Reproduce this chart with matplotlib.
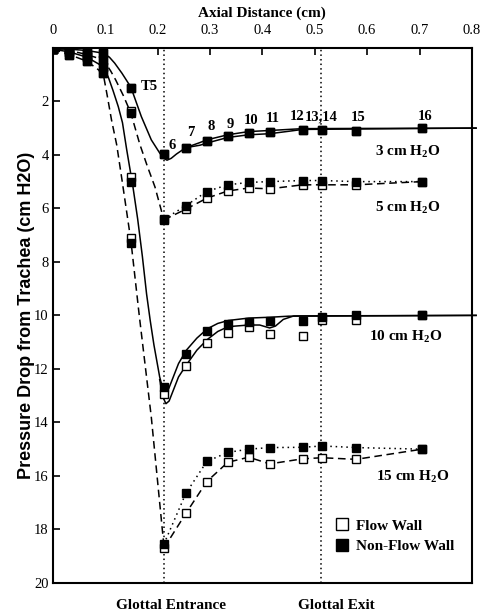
import matplotlib
matplotlib.use("Agg")
import matplotlib.pyplot as plt
from matplotlib.lines import Line2D

plt.rcParams['font.family'] = ['Liberation Serif', 'DejaVu Serif']
plt.rcParams['mathtext.fontset'] = 'custom'
plt.rcParams['mathtext.rm'] = 'Liberation Serif'
plt.rcParams['mathtext.bf'] = 'Liberation Serif:bold'

# measurement stations (cm along the axis)
x_pos = [0.0, 0.031, 0.065, 0.096, 0.149, 0.212, 0.254, 0.294, 0.334, 0.374, 0.414, 0.477, 0.514, 0.579, 0.705]
station_labels = ['T5', '6', '7', '8', '9', '10', '11', '12', '13,14', '15', '16']

# pressure drop, non-flow wall (filled) and flow wall (open)
p3_nonflow = [0.05, 0.05, 0.1, 0.2, 1.5, 3.97, 3.75, 3.48, 3.29, 3.19, 3.15, 3.07, 3.07, 3.1, 3.0]
p3_flow = [0.05, 0.05, 0.1, 0.2, 1.5, 3.97, 3.75, 3.48, 3.29, 3.19, 3.15, 3.07, 3.07, 3.1, 3.0]
p5_nonflow = [0.05, 0.1, 0.25, 0.45, 2.44, 6.41, 5.9, 5.37, 5.12, 5.03, 5.0, 4.96, 4.96, 5.0, 5.0]
p5_flow = [0.05, 0.1, 0.25, 0.45, 2.38, 6.43, 6.03, 5.62, 5.35, 5.24, 5.27, 5.12, 5.12, 5.12, 5.0]
p10_nonflow = [0.05, 0.15, 0.35, 0.7, 5.0, 12.66, 11.44, 10.6, 10.32, 10.24, 10.2, 10.2, 10.05, 10.0, 10.0]
p10_flow = [0.05, 0.15, 0.35, 0.7, 4.82, 12.95, 11.89, 11.03, 10.65, 10.43, 10.7, 10.77, 10.17, 10.17, 10.0]
p15_nonflow = [0.05, 0.25, 0.5, 0.95, 7.3, 18.55, 16.65, 15.46, 15.12, 15.0, 14.94, 14.93, 14.88, 14.94, 15.0]
p15_flow = [0.05, 0.25, 0.5, 0.95, 7.1, 18.7, 17.4, 16.21, 15.49, 15.3, 15.55, 15.36, 15.32, 15.38, 15.0]

# solid model curves, 3 cm H2O
c3_up_x = [0.0, 0.031, 0.065, 0.096, 0.108, 0.118, 0.132, 0.149, 0.169, 0.188, 0.204, 0.212, 0.218, 0.226,
           0.236, 0.254, 0.281, 0.294, 0.334, 0.374, 0.414, 0.45, 0.477, 0.808]
c3_up_y = [0.05, 0.05, 0.1, 0.2, 0.35, 0.57, 0.95, 1.47, 2.57, 3.44, 3.93, 4.13, 4.2, 4.13,
           3.97, 3.73, 3.54, 3.44, 3.25, 3.13, 3.09, 3.05, 3.02, 3.0]
c3_lo_x = [0.254, 0.281, 0.294, 0.334, 0.374, 0.414, 0.45, 0.477, 0.808]
c3_lo_y = [3.73, 3.64, 3.56, 3.35, 3.25, 3.21, 3.12, 3.05, 3.0]

# solid model curves, 10 cm H2O
c10_up_x = [0.0, 0.031, 0.065, 0.096, 0.106, 0.115, 0.125, 0.133, 0.141, 0.153, 0.162, 0.171, 0.179, 0.186,
            0.193, 0.204, 0.210, 0.215, 0.221, 0.230, 0.240, 0.255, 0.275, 0.295, 0.315, 0.335, 0.374,
            0.414, 0.45, 0.808]
c10_up_y = [0.05, 0.15, 0.35, 0.7, 1.1, 1.6, 2.2, 2.8, 3.8, 5.2, 6.4, 7.8, 9.2, 10.2,
            11.1, 12.3, 12.75, 12.9, 12.75, 12.3, 11.8, 11.3, 10.85, 10.5, 10.3, 10.19, 10.1,
            10.07, 10.03, 10.0]
c10_lo_x = [0.204, 0.210, 0.216, 0.222, 0.230, 0.240, 0.255, 0.275, 0.295, 0.315, 0.335, 0.374, 0.395,
            0.414, 0.425, 0.44, 0.46, 0.808]
c10_lo_y = [12.4, 13.05, 13.3, 13.2, 12.8, 12.3, 11.85, 11.3, 10.9, 10.6, 10.42, 10.36, 10.36,
            10.47, 10.4, 10.15, 10.02, 10.0]

# dashed entry curves up to the glottal entrance
c5_in_x = [0.0, 0.031, 0.065, 0.096, 0.11, 0.12, 0.135, 0.149, 0.166, 0.18, 0.195, 0.212]
c5_in_y = [0.05, 0.1, 0.25, 0.45, 0.85, 1.2, 1.8, 2.44, 3.6, 4.4, 5.2, 6.43]
c15_in_x = [0.0, 0.031, 0.065, 0.096, 0.104, 0.112, 0.122, 0.132, 0.149, 0.165, 0.188, 0.212]
c15_in_y = [0.05, 0.25, 0.5, 0.95, 1.8, 2.69, 3.63, 4.93, 7.2, 10.0, 13.8, 18.6]

glottal_entrance = 0.212
glottal_exit = 0.512

xticks = [0, 0.1, 0.2, 0.3, 0.4, 0.5, 0.6, 0.7, 0.8]
xtick_labels = ['0', '0.1', '0.2', '0.3', '0.4', '0.5', '0.6', '0.7', '0.8']
yticks = [2, 4, 6, 8, 10, 12, 14, 16, 18, 20]

# label spots for station numbers (above the 3 cm curve)
num_x = [0.184, 0.2285, 0.2635, 0.3017, 0.338, 0.379, 0.419, 0.466, 0.513, 0.582, 0.710]
num_y = [1.45, 3.66, 3.18, 2.94, 2.88, 2.72, 2.65, 2.57, 2.57, 2.61, 2.57]

fig = plt.figure(figsize=(4.89, 6.13), dpi=100)
ax = fig.add_axes([0.108, 0.049, 0.857, 0.873])

lw = 1.1
dash = (0, (5, 3))
dot = (0, (1, 2.5))

ax.axvline(glottal_entrance, color='black', lw=1.1, linestyle=(0, (1, 2)))
ax.axvline(glottal_exit, color='black', lw=1.1, linestyle=(0, (1, 2)))

ax.plot(c3_up_x, c3_up_y, color='black', lw=lw, clip_on=False)
ax.plot(c3_lo_x, c3_lo_y, color='black', lw=lw, clip_on=False)
ax.plot(c10_up_x, c10_up_y, color='black', lw=lw, clip_on=False)
ax.plot(c10_lo_x, c10_lo_y, color='black', lw=lw, clip_on=False)

ax.plot(c5_in_x, c5_in_y, color='black', lw=lw, linestyle=dash)
ax.plot(c15_in_x, c15_in_y, color='black', lw=lw, linestyle=dash)
ax.plot(x_pos[5:], p5_flow[5:], color='black', lw=lw, linestyle=dash)
ax.plot(x_pos[5:], p15_flow[5:], color='black', lw=lw, linestyle=dash)
ax.plot(x_pos[5:], p5_nonflow[5:], color='black', lw=lw, linestyle=dot)
ax.plot(x_pos[5:], p15_nonflow[5:], color='black', lw=lw, linestyle=dot)

for p in [p3_flow, p5_flow, p10_flow, p15_flow]:
    ax.plot(x_pos, p, linestyle='none', marker='s', ms=5.5, mfc='white', mec='black', mew=1.0, zorder=4)
for p in [p3_nonflow, p5_nonflow, p10_nonflow, p15_nonflow]:
    ax.plot(x_pos, p, linestyle='none', marker='s', ms=6, mfc='black', mec='black', zorder=5)

for lab, tx, ty in zip(station_labels, num_x, num_y):
    ax.text(tx, ty, lab, ha='center', va='center', fontsize=10.5, fontweight='bold')

ax.text(0.678, 3.88, r'3 cm H$_\mathbf{2}$O', ha='center', va='center', fontsize=11, fontweight='bold')
ax.text(0.678, 5.96, r'5 cm H$_\mathbf{2}$O', ha='center', va='center', fontsize=11, fontweight='bold')
ax.text(0.674, 10.79, r'10 cm H$_\mathbf{2}$O', ha='center', va='center', fontsize=11, fontweight='bold')
ax.text(0.687, 16.03, r'15 cm H$_\mathbf{2}$O', ha='center', va='center', fontsize=11, fontweight='bold')

ax.text(0.225, -0.043, 'Glottal Entrance', transform=ax.get_xaxis_transform(),
        ha='center', va='center', fontsize=11, fontweight='bold')
ax.text(0.542, -0.043, 'Glottal Exit', transform=ax.get_xaxis_transform(),
        ha='center', va='center', fontsize=11, fontweight='bold')

handles = [Line2D([], [], linestyle='none', marker='s', ms=8, mfc='white', mec='black', mew=1.0),
           Line2D([], [], linestyle='none', marker='s', ms=8, mfc='black', mec='black')]
leg = ax.legend(handles, ['Flow Wall', 'Non-Flow Wall'], loc='upper left', bbox_to_anchor=(0.643, 0.145),
                frameon=False, handlelength=0.8, handletextpad=0.5, labelspacing=0.42,
                prop={'weight': 'bold', 'size': 11})

ax.set_xlim(0, 0.8)
ax.set_ylim(20, 0)
ax.xaxis.tick_top()
ax.set_xticks(xticks)
ax.set_xticklabels(xtick_labels)
ax.set_yticks(yticks)
ax.tick_params(axis='x', direction='in', length=5, width=1.2, pad=8, labelsize=10.5)
ax.tick_params(axis='y', direction='in', length=5, width=1.2, pad=3, labelsize=10.5)
for s in ax.spines.values():
    s.set_linewidth(1.5)

ax.xaxis.set_label_position('top')
ax.set_xlabel('Axial Distance (cm)', fontsize=11, fontweight='bold')
ax.xaxis.set_label_coords(0.5, 1.058)
ax.set_ylabel('Pressure Drop from Trachea (cm H2O)', fontsize=13, fontweight='bold',
              family=['Liberation Sans', 'DejaVu Sans'])
ax.yaxis.set_label_coords(-0.042, 0.5)

fig.savefig('out.png', dpi=100)
